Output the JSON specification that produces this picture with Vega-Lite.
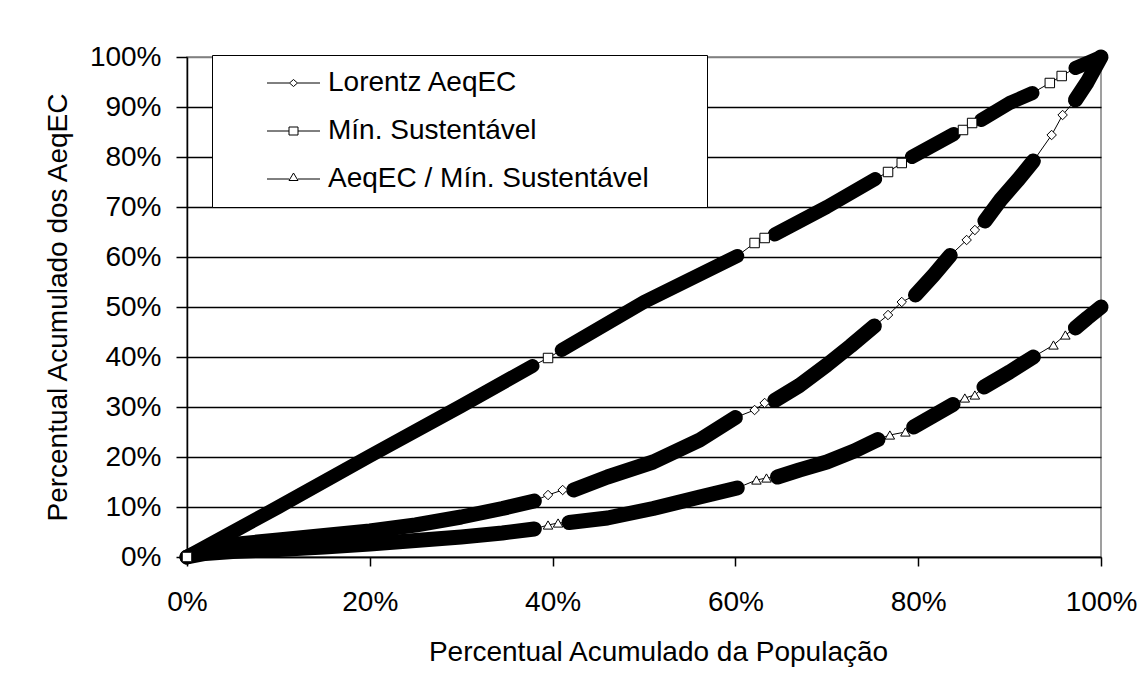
{
  "$schema": "https://vega.github.io/schema/vega-lite/v6.json",
  "width": 914,
  "height": 500,
  "autosize": "none",
  "padding": {"left": 187, "top": 57, "right": 36, "bottom": 138},
  "background": "white",
  "config": {
    "font": "Liberation Sans",
    "view": {"stroke": "#808080", "strokeWidth": 1.5},
    "axis": {"labelFont": "Liberation Sans", "titleFont": "Liberation Sans", "labelColor": "black", "titleColor": "black", "titleFontWeight": "normal"}
  },
  "data": {
    "values": [
      {"serie": "Lorentz AeqEC", "x": 0, "y": 0, "trecho": 1},
      {"serie": "Lorentz AeqEC", "x": 0.02, "y": 0.016, "trecho": 1},
      {"serie": "Lorentz AeqEC", "x": 0.05, "y": 0.025, "trecho": 1},
      {"serie": "Lorentz AeqEC", "x": 0.1, "y": 0.034, "trecho": 1},
      {"serie": "Lorentz AeqEC", "x": 0.15, "y": 0.043, "trecho": 1},
      {"serie": "Lorentz AeqEC", "x": 0.2, "y": 0.052, "trecho": 1},
      {"serie": "Lorentz AeqEC", "x": 0.25, "y": 0.064, "trecho": 1},
      {"serie": "Lorentz AeqEC", "x": 0.3, "y": 0.08, "trecho": 1},
      {"serie": "Lorentz AeqEC", "x": 0.345, "y": 0.097, "trecho": 1},
      {"serie": "Lorentz AeqEC", "x": 0.38, "y": 0.112, "trecho": 1},
      {"serie": "Lorentz AeqEC", "x": 0.395, "y": 0.124, "trecho": 0},
      {"serie": "Lorentz AeqEC", "x": 0.411, "y": 0.134, "trecho": 0},
      {"serie": "Lorentz AeqEC", "x": 0.423, "y": 0.134, "trecho": 2},
      {"serie": "Lorentz AeqEC", "x": 0.46, "y": 0.16, "trecho": 2},
      {"serie": "Lorentz AeqEC", "x": 0.51, "y": 0.19, "trecho": 2},
      {"serie": "Lorentz AeqEC", "x": 0.561, "y": 0.234, "trecho": 2},
      {"serie": "Lorentz AeqEC", "x": 0.6, "y": 0.279, "trecho": 2},
      {"serie": "Lorentz AeqEC", "x": 0.621, "y": 0.294, "trecho": 0},
      {"serie": "Lorentz AeqEC", "x": 0.632, "y": 0.308, "trecho": 0},
      {"serie": "Lorentz AeqEC", "x": 0.643, "y": 0.313, "trecho": 3},
      {"serie": "Lorentz AeqEC", "x": 0.67, "y": 0.343, "trecho": 3},
      {"serie": "Lorentz AeqEC", "x": 0.7, "y": 0.384, "trecho": 3},
      {"serie": "Lorentz AeqEC", "x": 0.726, "y": 0.422, "trecho": 3},
      {"serie": "Lorentz AeqEC", "x": 0.752, "y": 0.462, "trecho": 3},
      {"serie": "Lorentz AeqEC", "x": 0.767, "y": 0.484, "trecho": 0},
      {"serie": "Lorentz AeqEC", "x": 0.782, "y": 0.51, "trecho": 0},
      {"serie": "Lorentz AeqEC", "x": 0.797, "y": 0.524, "trecho": 4},
      {"serie": "Lorentz AeqEC", "x": 0.817, "y": 0.564, "trecho": 4},
      {"serie": "Lorentz AeqEC", "x": 0.835, "y": 0.603, "trecho": 4},
      {"serie": "Lorentz AeqEC", "x": 0.853, "y": 0.634, "trecho": 0},
      {"serie": "Lorentz AeqEC", "x": 0.862, "y": 0.654, "trecho": 0},
      {"serie": "Lorentz AeqEC", "x": 0.873, "y": 0.672, "trecho": 5},
      {"serie": "Lorentz AeqEC", "x": 0.89, "y": 0.714, "trecho": 5},
      {"serie": "Lorentz AeqEC", "x": 0.91, "y": 0.756, "trecho": 5},
      {"serie": "Lorentz AeqEC", "x": 0.926, "y": 0.792, "trecho": 5},
      {"serie": "Lorentz AeqEC", "x": 0.946, "y": 0.844, "trecho": 0},
      {"serie": "Lorentz AeqEC", "x": 0.958, "y": 0.884, "trecho": 0},
      {"serie": "Lorentz AeqEC", "x": 0.972, "y": 0.914, "trecho": 6},
      {"serie": "Lorentz AeqEC", "x": 0.985, "y": 0.95, "trecho": 6},
      {"serie": "Lorentz AeqEC", "x": 1.0, "y": 1.0, "trecho": 6},

      {"serie": "Mín. Sustentável", "x": 0, "y": 0, "trecho": 0},
      {"serie": "Mín. Sustentável", "x": 0, "y": 0, "trecho": 1},
      {"serie": "Mín. Sustentável", "x": 0.1, "y": 0.1, "trecho": 1},
      {"serie": "Mín. Sustentável", "x": 0.2, "y": 0.202, "trecho": 1},
      {"serie": "Mín. Sustentável", "x": 0.3, "y": 0.302, "trecho": 1},
      {"serie": "Mín. Sustentável", "x": 0.378, "y": 0.382, "trecho": 1},
      {"serie": "Mín. Sustentável", "x": 0.395, "y": 0.398, "trecho": 0},
      {"serie": "Mín. Sustentável", "x": 0.41, "y": 0.414, "trecho": 2},
      {"serie": "Mín. Sustentável", "x": 0.5, "y": 0.51, "trecho": 2},
      {"serie": "Mín. Sustentável", "x": 0.602, "y": 0.602, "trecho": 2},
      {"serie": "Mín. Sustentável", "x": 0.621, "y": 0.628, "trecho": 0},
      {"serie": "Mín. Sustentável", "x": 0.632, "y": 0.638, "trecho": 0},
      {"serie": "Mín. Sustentável", "x": 0.643, "y": 0.645, "trecho": 3},
      {"serie": "Mín. Sustentável", "x": 0.7, "y": 0.7, "trecho": 3},
      {"serie": "Mín. Sustentável", "x": 0.753, "y": 0.756, "trecho": 3},
      {"serie": "Mín. Sustentável", "x": 0.767, "y": 0.77, "trecho": 0},
      {"serie": "Mín. Sustentável", "x": 0.782, "y": 0.788, "trecho": 0},
      {"serie": "Mín. Sustentável", "x": 0.793, "y": 0.8, "trecho": 4},
      {"serie": "Mín. Sustentável", "x": 0.839, "y": 0.846, "trecho": 4},
      {"serie": "Mín. Sustentável", "x": 0.849, "y": 0.854, "trecho": 0},
      {"serie": "Mín. Sustentável", "x": 0.859, "y": 0.868, "trecho": 0},
      {"serie": "Mín. Sustentável", "x": 0.869, "y": 0.874, "trecho": 5},
      {"serie": "Mín. Sustentável", "x": 0.9, "y": 0.908, "trecho": 5},
      {"serie": "Mín. Sustentável", "x": 0.925, "y": 0.928, "trecho": 5},
      {"serie": "Mín. Sustentável", "x": 0.944, "y": 0.948, "trecho": 0},
      {"serie": "Mín. Sustentável", "x": 0.957, "y": 0.962, "trecho": 0},
      {"serie": "Mín. Sustentável", "x": 0.972, "y": 0.978, "trecho": 6},
      {"serie": "Mín. Sustentável", "x": 0.99, "y": 0.992, "trecho": 6},
      {"serie": "Mín. Sustentável", "x": 1.0, "y": 1.0, "trecho": 6},

      {"serie": "AeqEC / Mín. Sustentável", "x": 0, "y": 0, "trecho": 1},
      {"serie": "AeqEC / Mín. Sustentável", "x": 0.02, "y": 0.007, "trecho": 1},
      {"serie": "AeqEC / Mín. Sustentável", "x": 0.05, "y": 0.011, "trecho": 1},
      {"serie": "AeqEC / Mín. Sustentável", "x": 0.1, "y": 0.015, "trecho": 1},
      {"serie": "AeqEC / Mín. Sustentável", "x": 0.15, "y": 0.02, "trecho": 1},
      {"serie": "AeqEC / Mín. Sustentável", "x": 0.2, "y": 0.026, "trecho": 1},
      {"serie": "AeqEC / Mín. Sustentável", "x": 0.25, "y": 0.033, "trecho": 1},
      {"serie": "AeqEC / Mín. Sustentável", "x": 0.3, "y": 0.04, "trecho": 1},
      {"serie": "AeqEC / Mín. Sustentável", "x": 0.345, "y": 0.048, "trecho": 1},
      {"serie": "AeqEC / Mín. Sustentável", "x": 0.38, "y": 0.056, "trecho": 1},
      {"serie": "AeqEC / Mín. Sustentável", "x": 0.395, "y": 0.064, "trecho": 0},
      {"serie": "AeqEC / Mín. Sustentável", "x": 0.406, "y": 0.068, "trecho": 0},
      {"serie": "AeqEC / Mín. Sustentável", "x": 0.418, "y": 0.069, "trecho": 2},
      {"serie": "AeqEC / Mín. Sustentável", "x": 0.46, "y": 0.078, "trecho": 2},
      {"serie": "AeqEC / Mín. Sustentável", "x": 0.51, "y": 0.097, "trecho": 2},
      {"serie": "AeqEC / Mín. Sustentável", "x": 0.561, "y": 0.12, "trecho": 2},
      {"serie": "AeqEC / Mín. Sustentável", "x": 0.602, "y": 0.138, "trecho": 2},
      {"serie": "AeqEC / Mín. Sustentável", "x": 0.623, "y": 0.154, "trecho": 0},
      {"serie": "AeqEC / Mín. Sustentável", "x": 0.634, "y": 0.158, "trecho": 0},
      {"serie": "AeqEC / Mín. Sustentável", "x": 0.646, "y": 0.16, "trecho": 3},
      {"serie": "AeqEC / Mín. Sustentável", "x": 0.67, "y": 0.174, "trecho": 3},
      {"serie": "AeqEC / Mín. Sustentável", "x": 0.7, "y": 0.19, "trecho": 3},
      {"serie": "AeqEC / Mín. Sustentável", "x": 0.73, "y": 0.212, "trecho": 3},
      {"serie": "AeqEC / Mín. Sustentável", "x": 0.756, "y": 0.235, "trecho": 3},
      {"serie": "AeqEC / Mín. Sustentável", "x": 0.769, "y": 0.244, "trecho": 0},
      {"serie": "AeqEC / Mín. Sustentável", "x": 0.786, "y": 0.25, "trecho": 0},
      {"serie": "AeqEC / Mín. Sustentável", "x": 0.795, "y": 0.26, "trecho": 4},
      {"serie": "AeqEC / Mín. Sustentável", "x": 0.838, "y": 0.305, "trecho": 4},
      {"serie": "AeqEC / Mín. Sustentável", "x": 0.851, "y": 0.318, "trecho": 0},
      {"serie": "AeqEC / Mín. Sustentável", "x": 0.862, "y": 0.324, "trecho": 0},
      {"serie": "AeqEC / Mín. Sustentável", "x": 0.872, "y": 0.34, "trecho": 5},
      {"serie": "AeqEC / Mín. Sustentável", "x": 0.9, "y": 0.37, "trecho": 5},
      {"serie": "AeqEC / Mín. Sustentável", "x": 0.926, "y": 0.4, "trecho": 5},
      {"serie": "AeqEC / Mín. Sustentável", "x": 0.948, "y": 0.424, "trecho": 0},
      {"serie": "AeqEC / Mín. Sustentável", "x": 0.961, "y": 0.444, "trecho": 0},
      {"serie": "AeqEC / Mín. Sustentável", "x": 0.972, "y": 0.458, "trecho": 6},
      {"serie": "AeqEC / Mín. Sustentável", "x": 0.985, "y": 0.478, "trecho": 6},
      {"serie": "AeqEC / Mín. Sustentável", "x": 1.0, "y": 0.5, "trecho": 6}
    ]
  },
  "encoding": {
    "x": {
      "field": "x", "type": "quantitative",
      "scale": {"domain": [0, 1], "nice": false, "zero": false},
      "axis": {
        "values": [0, 0.2, 0.4, 0.6, 0.8, 1],
        "format": ".0%",
        "title": "Percentual Acumulado da População",
        "grid": false,
        "domainColor": "black", "domainWidth": 1.5,
        "tickColor": "black", "tickSize": 9, "tickWidth": 1.5,
        "labelFontSize": 28, "labelPadding": 22, "labelFlush": false, "labelOverlap": false,
        "titleFontSize": 28, "titlePadding": 22, "titleX": 471
      }
    },
    "y": {
      "field": "y", "type": "quantitative",
      "scale": {"domain": [0, 1], "nice": false, "zero": false},
      "axis": {
        "values": [0, 0.1, 0.2, 0.3, 0.4, 0.5, 0.6, 0.7, 0.8, 0.9, 1],
        "format": ".0%",
        "title": "Percentual Acumulado dos AeqEC",
        "grid": true,
        "gridColor": {"condition": {"test": "datum.value >= 1", "value": "#808080"}, "value": "black"},
        "gridWidth": 1.5,
        "domainColor": "black", "domainWidth": 1.5,
        "tickColor": "black", "tickSize": 11, "tickWidth": 1.5,
        "labelFontSize": 28, "labelPadding": 15, "labelOverlap": false,
        "titleFontSize": 28, "titlePadding": 17
      }
    }
  },
  "layer": [
    {
      "mark": {"type": "line", "color": "black", "strokeWidth": 1},
      "encoding": {"detail": {"field": "serie"}}
    },
    {
      "transform": [{"filter": "datum.trecho > 0 && datum.serie === 'Mín. Sustentável'"}],
      "mark": {"type": "line", "color": "black", "strokeWidth": 14, "strokeCap": "round", "strokeJoin": "round"},
      "encoding": {"detail": {"field": "trecho"}}
    },
    {
      "transform": [{"filter": "datum.trecho > 0 && datum.serie !== 'Mín. Sustentável'"}],
      "mark": {"type": "line", "color": "black", "strokeWidth": 15, "strokeCap": "round", "strokeJoin": "round"},
      "encoding": {"detail": [{"field": "serie"}, {"field": "trecho"}]}
    },
    {
      "transform": [{"filter": "datum.trecho == 0"}],
      "mark": {"type": "point", "filled": true, "fill": "white", "stroke": "black", "strokeWidth": 1, "size": 90, "opacity": 1},
      "encoding": {
        "shape": {
          "field": "serie", "type": "nominal",
          "scale": {"domain": ["Lorentz AeqEC", "Mín. Sustentável", "AeqEC / Mín. Sustentável"], "range": ["diamond", "square", "triangle-up"]},
          "legend": null
        }
      }
    },
    {
      "transform": [{"filter": "datum.trecho < 0"}],
      "mark": {"type": "point", "filled": false, "color": "black", "strokeWidth": 1, "size": 400, "opacity": 1},
      "encoding": {
        "shape": {
          "field": "serie", "type": "nominal",
          "scale": {
            "domain": ["Lorentz AeqEC", "Mín. Sustentável", "AeqEC / Mín. Sustentável"],
            "range": [
              "M-2.65,0H-0.4M0.4,0H2.65M0,-0.35L0.4,0L0,0.35L-0.4,0ZM39.7,0",
              "M-2.65,0H-0.45M0.45,0H2.65M-0.45,-0.4H0.45V0.4H-0.45ZM39.7,0",
              "M-2.65,0H-0.45M0.45,0H2.65M-0.45,0.15L0,-0.6L0.45,0.15ZM39.7,0"
            ]
          },
          "legend": {
            "title": null,
            "orient": "none",
            "legendX": 25,
            "legendY": -2,
            "padding": 14,
            "strokeColor": "black",
            "fillColor": "white",
            "labelFontSize": 28,
            "labelColor": "black",
            "labelFont": "Liberation Sans",
            "labelLimit": 700,
            "labelBaseline": "middle",
            "symbolSize": 400,
            "symbolStrokeWidth": 1,
            "symbolStrokeColor": "black",
            "symbolOffset": 53.5,
            "labelOffset": 20.5,
            "rowPadding": 20
          }
        }
      }
    }
  ],
  "resolve": {"scale": {"shape": "independent"}, "legend": {"shape": "independent"}}
}
